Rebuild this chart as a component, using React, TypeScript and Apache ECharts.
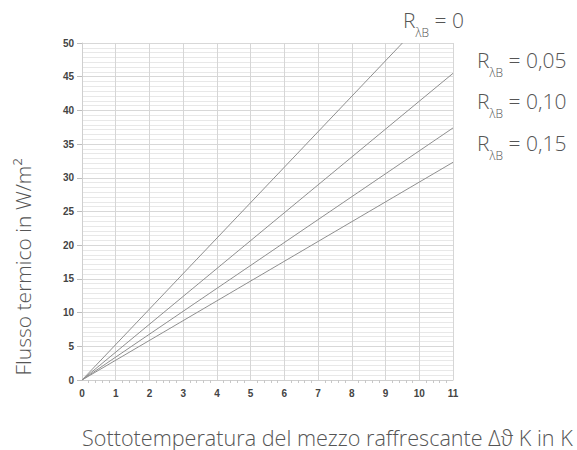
import React, { useEffect, useRef } from "react";
import * as echarts from "echarts";

// Heat flux (W/m²) vs. coolant under-temperature, one line per floor covering resistance
const xValues = [0, 11];
const seriesR0 = [[0, 0], [9.5, 50]];
const seriesR005 = [[0, 0], [11, 45.5]];
const seriesR010 = [[0, 0], [11, 37.4]];
const seriesR015 = [[0, 0], [11, 32.3]];
const curveLabels = ["0", "0,05", "0,10", "0,15"];
const xTitle = "Sottotemperatura del mezzo raffrescante Δϑ K in K";
const yTitle = "Flusso termico in W/m²";

const labelFont = "'Open Sans', 'Noto Sans', sans-serif";
const textColor = "#555";
const mainSize = 21;
const subSize = 12;

function measure(text: string, size: number): number {
  const ctx = document.createElement("canvas").getContext("2d");
  if (!ctx) return text.length * size * 0.55;
  ctx.font = `300 ${size}px ${labelFont}`;
  return ctx.measureText(text).width;
}

// R_λB label built from three texts so the subscript can sit below the baseline
function rLabel(value: string, x: number, baseline: number) {
  const wR = measure("R", mainSize);
  const wSub = measure("λB", subSize);
  const base = { fill: textColor, verticalAlign: "middle", align: "left" };
  return {
    type: "group",
    x,
    y: baseline,
    children: [
      { type: "text", x: 0, y: -0.35 * mainSize, style: { ...base, text: "R", font: `300 ${mainSize}px ${labelFont}` } },
      { type: "text", x: wR, y: 10 - 0.35 * subSize, style: { ...base, text: "λB", font: `300 ${subSize}px ${labelFont}` } },
      { type: "text", x: wR + wSub, y: -0.35 * mainSize, style: { ...base, text: ` = ${value}`, font: `300 ${mainSize}px ${labelFont}` } },
    ],
  };
}

export default function App() {
  const ref = useRef<HTMLDivElement>(null);

  useEffect(() => {
    if (!ref.current) return;
    const chart = echarts.init(ref.current, null, { renderer: "svg" });
    const lineStyle = { color: "#8f8f8f", width: 1 };
    const mk = (data: number[][]) => ({
      type: "line",
      data,
      showSymbol: false,
      symbol: "none",
      lineStyle,
      silent: true,
    });
    const tickFont = { color: "#444", fontSize: 10, fontWeight: "bold", fontFamily: "Arial, 'Liberation Sans', sans-serif", margin: 8 };
    chart.setOption({
      animation: false,
      backgroundColor: "#fff",
      grid: { left: 82, right: 124, top: 43, bottom: 70 },
      xAxis: {
        type: "value",
        min: xValues[0],
        max: xValues[1],
        interval: 1,
        axisLine: { show: true, lineStyle: { color: "#cfcfcf" } },
        axisTick: { show: false },
        minorTick: { show: true, splitNumber: 5, length: 3, lineStyle: { color: "#c8c8c8" } },
        axisLabel: tickFont,
        splitLine: { show: true, lineStyle: { color: "#d6d6d6", width: 1 } },
      },
      yAxis: {
        type: "value",
        min: 0,
        max: 50,
        interval: 5,
        axisLine: { show: true, lineStyle: { color: "#cfcfcf" } },
        axisTick: { show: true, length: 5, lineStyle: { color: "#bdbdbd" } },
        axisLabel: tickFont,
        splitLine: { show: true, lineStyle: { color: "#d8d8d8", width: 1 } },
        minorSplitLine: { show: true, lineStyle: { color: "#e8e8e8", width: 1 } },
        minorTick: { show: false, splitNumber: 7 },
      },
      series: [mk(seriesR0), mk(seriesR005), mk(seriesR010), mk(seriesR015)],
      graphic: [
        rLabel(curveLabels[0], 403, 27),
        rLabel(curveLabels[1], 477, 67),
        rLabel(curveLabels[2], 477, 108),
        rLabel(curveLabels[3], 477, 150),
        {
          type: "text",
          x: 82,
          y: 437,
          style: {
            text: xTitle,
            fill: textColor,
            font: `300 21.6px ${labelFont}`,
            align: "left",
            verticalAlign: "middle",
          },
        },
        {
          type: "text",
          x: 23,
          y: 267,
          rotation: Math.PI / 2,
          style: {
            text: yTitle,
            fill: textColor,
            font: `300 ${mainSize}px ${labelFont}`,
            align: "center",
            verticalAlign: "middle",
          },
        },
      ],
    });
    return () => chart.dispose();
  }, []);

  return (
    <div
      ref={ref}
      style={{ position: "fixed", left: 0, top: 0, width: 577, height: 450, overflow: "hidden" }}
    />
  );
}
